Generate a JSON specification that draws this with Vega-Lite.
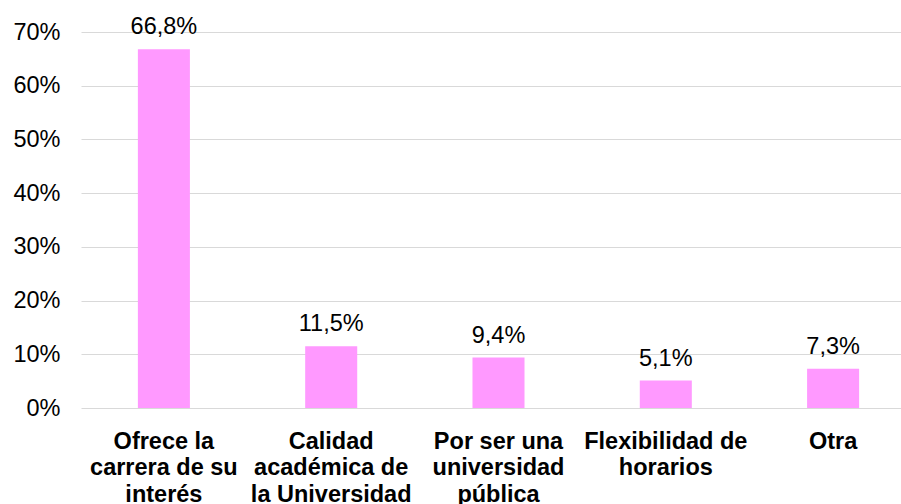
{
  "$schema": "https://vega.github.io/schema/vega-lite/v6.json",
  "autosize": {"type": "none"},
  "width": 820,
  "height": 376,
  "padding": {"left": 81, "top": 32, "right": 0, "bottom": 96},
  "background": "white",
  "config": {
    "view": {"stroke": null},
    "font": "Liberation Sans",
    "locale": {"number": {"decimal": ",", "thousands": ".", "grouping": [3], "currency": ["", " €"]}}
  },
  "data": {
    "values": [
      {"motivo": "Ofrece la\ncarrera de su\ninterés", "valor": 0.668},
      {"motivo": "Calidad\nacadémica de\nla Universidad", "valor": 0.115},
      {"motivo": "Por ser una\nuniversidad\npública", "valor": 0.094},
      {"motivo": "Flexibilidad de\nhorarios", "valor": 0.051},
      {"motivo": "Otra", "valor": 0.073}
    ]
  },
  "encoding": {
    "x": {
      "field": "motivo",
      "type": "nominal",
      "sort": null,
      "scale": {"range": [0, 835], "paddingInner": 0.689, "paddingOuter": 0.34},
      "axis": {
        "title": null,
        "labelAngle": 0,
        "labelExpr": "split(datum.label, '\\n')",
        "labelFont": "Liberation Sans",
        "labelFontSize": 23.5,
        "labelFontWeight": "bold",
        "labelColor": "#000000",
        "labelLineHeight": 26.7,
        "labelLimit": 300,
        "labelPadding": 21,
        "labelBaseline": "top",
        "ticks": false,
        "domain": false,
        "grid": false
      }
    },
    "y": {
      "field": "valor",
      "type": "quantitative",
      "scale": {"domain": [0, 0.7], "nice": false},
      "axis": {
        "title": null,
        "format": ".0%",
        "values": [0, 0.1, 0.2, 0.3, 0.4, 0.5, 0.6, 0.7],
        "labelFont": "Liberation Sans",
        "labelFontSize": 23.5,
        "labelColor": "#000000",
        "labelPadding": 21,
        "ticks": false,
        "domain": false,
        "grid": true,
        "gridColor": "#d9d9d9",
        "gridWidth": 1.2
      }
    }
  },
  "layer": [
    {"mark": {"type": "bar", "color": "#FF99FF"}},
    {
      "mark": {"type": "text", "baseline": "alphabetic", "dy": -15, "fontSize": 23.5, "font": "Liberation Sans", "color": "#000000"},
      "encoding": {"text": {"field": "valor", "type": "quantitative", "format": ".1%"}}
    }
  ]
}
